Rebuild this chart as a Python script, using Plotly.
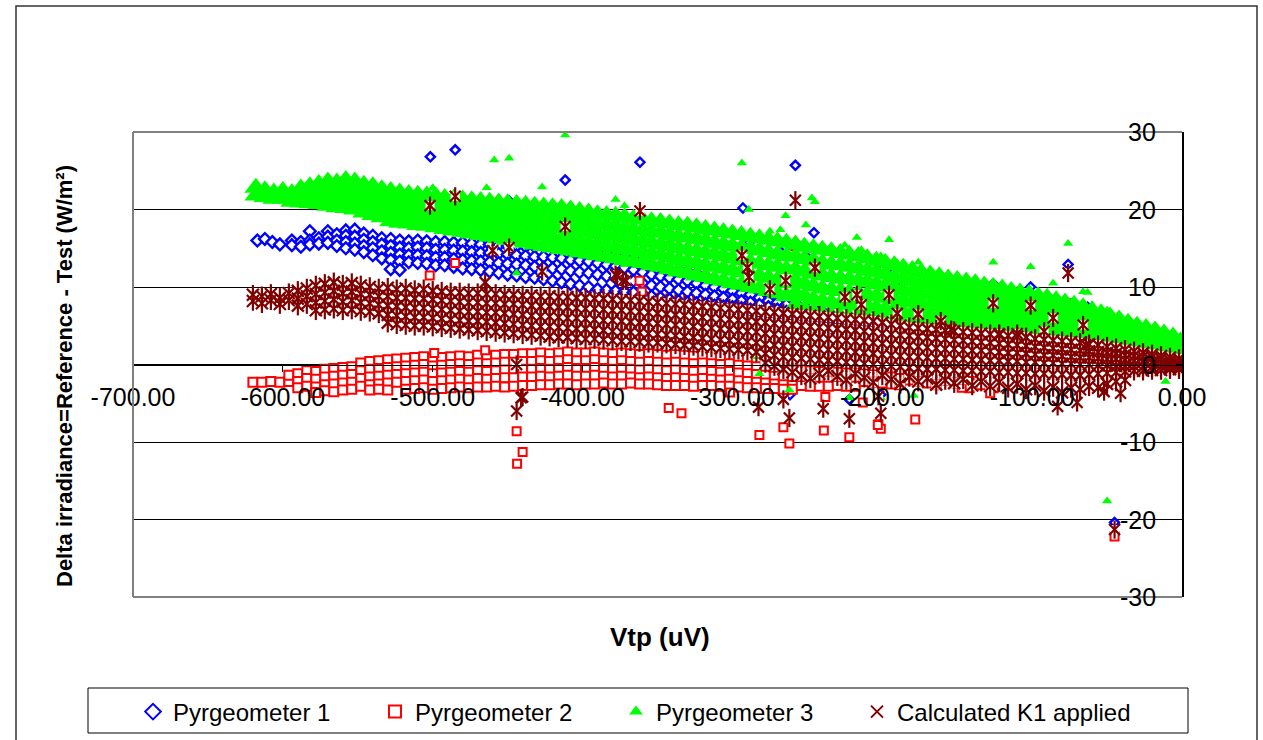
import plotly.graph_objects as go

# ---------------- data ----------------
X_TICKS = [-700, -600, -500, -400, -300, -200, -100, 0]
X_TICKTEXT = ["-700.00", "-600.00", "-500.00", "-400.00", "-300.00", "-200.00", "-100.00", "0.00"]
Y_TICKS = [-30, -20, -10, 0, 10, 20, 30]
Y_TICKTEXT = ["-30", "-20", "-10", "0", "10", "20", "30"]

# Pyrgeometer 1 (blue diamonds): dense band (x, [y...]) + scattered points
P1_BAND = [
    (-617, [16.0]), (-612, [16.2]), (-607, [15.8]), (-602, [15.5]),
    (-594, [16.0, 15.4]), (-588, [15.8, 15.2]), (-582, [17.2, 16.0, 15.5]), (-576, [16.3, 15.6]),
    (-570, [17.2, 16.5, 15.7]), (-564, [16.8, 16.0, 15.3]), (-558, [17.3, 16.6, 15.8, 15.0]),
    (-552, [17.4, 16.5, 15.6, 14.8]), (-546, [16.9, 16.1, 15.3, 14.5]), (-540, [16.6, 15.8, 15.0, 14.1]),
    (-534, [16.3, 15.5, 14.6, 13.7]), (-528, [16.2, 15.3, 14.4, 13.5, 12.3]), (-522, [16.0, 15.1, 14.2, 13.3, 12.2]),
    (-516, [15.9, 15.0, 14.1, 13.2]), (-510, [16.0, 15.1, 14.1, 13.1]), (-504, [15.9, 15.0, 14.0, 13.0]),
    (-498, [15.8, 14.8, 13.8, 12.8]), (-492, [15.8, 14.8, 13.8, 12.8]), (-486, [15.7, 14.7, 13.6, 12.6]),
    (-480, [15.7, 14.6, 13.5, 12.4]), (-474, [15.6, 14.5, 13.4, 12.3]), (-468, [15.5, 14.4, 13.3, 12.2]),
    (-462, [15.5, 14.4, 13.2, 12.0]), (-456, [15.4, 14.3, 13.1, 11.8]), (-450, [15.3, 14.2, 13.0, 11.6]),
    (-444, [15.3, 14.1, 12.9, 11.5]), (-438, [15.2, 14.0, 12.8, 11.3]), (-432, [15.2, 13.9, 12.6, 11.2]),
    (-426, [15.2, 13.9, 12.5, 11.0]), (-420, [15.1, 13.8, 12.4, 10.8]), (-414, [15.0, 13.7, 12.3, 10.6]),
    (-408, [14.9, 13.5, 12.1, 10.4]), (-402, [14.8, 13.4, 11.9, 10.2]), (-396, [14.7, 13.3, 11.8, 10.0]),
    (-390, [14.6, 13.1, 11.6, 9.7]), (-384, [14.4, 12.9, 11.4, 9.6]), (-378, [14.2, 12.7, 11.2, 9.5]),
    (-372, [14.0, 12.5, 11.0, 9.4]), (-366, [13.6, 12.2, 10.8, 9.3]), (-360, [13.2, 11.9, 10.5, 9.1]),
    (-354, [12.8, 11.6, 10.2, 8.8]), (-348, [12.6, 11.4, 10.0, 8.6]), (-342, [12.4, 11.2, 9.8, 8.4]),
    (-336, [12.2, 11.0, 9.6, 8.2]), (-330, [12.0, 10.8, 9.4, 8.0]), (-324, [11.7, 10.5, 9.2, 7.9]),
    (-318, [11.4, 10.2, 9.0, 7.8]), (-312, [11.1, 10.0, 8.8, 7.6]), (-306, [10.8, 9.8, 8.6, 7.5]),
    (-300, [10.5, 9.5, 8.4, 7.4]), (-294, [10.2, 9.2, 8.2, 7.3]), (-288, [9.9, 9.0, 8.0, 7.1]),
    (-282, [9.5, 8.6, 7.7, 6.8]), (-276, [9.0, 8.2, 7.4, 6.5]), (-270, [8.8, 8.0, 7.1, 6.3]),
    (-264, [8.6, 7.7, 6.8, 6.0]), (-258, [8.4, 7.5, 6.5, 5.7]), (-252, [8.2, 7.2, 6.2, 5.4]),
    (-246, [7.6, 6.7, 5.8]), (-240, [6.8, 6.0, 5.0]), (-234, [6.4, 5.6, 4.8]), (-228, [6.2, 5.3]),
    (-222, [6.0, 5.0]), (-216, [5.8, 4.8]), (-210, [5.5]), (-204, [5.2]),
]
P1_OUT_X = [-501.6, -485, -361.7, -411.6, -449, -258, -293, -289, -264.5, -251, -245.6, -195.5, -176,
            -126, -101, -76, -86, -66, -63, -49.5, -190, -3, -8, -45, -5, -230, -215, -200,
            -261.6, -201, -222]
P1_OUT_Y = [26.8, 27.7, 26.1, 23.8, 21.1, 25.7, 20.2, 15.7, 15.1, 14.0, 17.0, 12.5, 9.7,
            10.4, 10.0, 12.9, 8.2, 7.4, 7.4, 4.0, 10.0, 0.2, 0.3, -20.4, 1.4, 5.5, 4.9, 4.6,
            -3.9, -3.9, -4.5]

# Pyrgeometer 2 (red squares)
P2_BAND = [
    (-620, [-2.3]), (-614, [-2.3]), (-608, [-2.2]), (-602, [-2.3]), (-596, [-2.2, -1.4]),
    (-590, [-1.2, -2.2, -3.0]), (-584, [-0.8, -1.8, -2.8]), (-578, [-0.9, -1.9, -2.9, -3.6]),
    (-572, [-0.6, -1.6, -2.6, -3.4]), (-566, [-0.5, -1.5, -2.5, -3.5]), (-560, [-0.4, -1.4, -2.4, -3.3]),
    (-554, [-0.3, -1.3, -2.3, -3.2]), (-548, [0.2, -0.8, -1.8, -2.8]), (-542, [0.4, -0.6, -1.6, -2.6, -3.3]),
    (-536, [0.5, -0.5, -1.5, -2.5, -3.2]), (-530, [0.6, -0.4, -1.4, -2.4, -3.3]), (-524, [0.7, -0.3, -1.3, -2.3]),
    (-518, [0.8, -0.2, -1.2, -2.2, -3.2]), (-512, [0.9, -0.1, -1.1, -2.1, -3.1]), (-506, [1.0, 0.0, -1.0, -2.0, -3.0]),
    (-500, [0.8, -0.2, -1.2, -2.2, -3.2]), (-494, [0.9, -0.1, -1.1, -2.1, -3.1]), (-488, [1.0, 0.0, -1.0, -2.0, -3.0]),
    (-482, [1.1, 0.1, -0.9, -1.9, -2.9]), (-476, [1.0, 0.0, -1.0, -2.0, -3.0]), (-470, [1.2, 0.2, -0.8, -1.8, -2.9]),
    (-464, [1.1, 0.1, -0.9, -1.9, -2.9]), (-458, [1.2, 0.2, -0.8, -1.8, -2.8]), (-452, [1.3, 0.3, -0.7, -1.7, -2.9]),
    (-446, [1.3, 0.3, -0.7, -1.7, -2.8]), (-440, [1.4, 0.4, -0.6, -1.6, -2.7]), (-434, [1.4, 0.4, -0.6, -1.6, -2.7]),
    (-428, [1.5, 0.5, -0.5, -1.5, -2.6]), (-422, [1.4, 0.4, -0.6, -1.6, -2.6]), (-416, [1.5, 0.5, -0.5, -1.5, -2.5]),
    (-410, [1.6, 0.6, -0.4, -1.4, -2.5]), (-404, [1.5, 0.5, -0.5, -1.5, -2.6]), (-398, [1.5, 0.5, -0.5, -1.5, -2.5]),
    (-392, [1.6, 0.6, -0.4, -1.4, -2.5]), (-386, [1.5, 0.5, -0.5, -1.5, -2.4]), (-380, [1.4, 0.4, -0.6, -1.6, -2.5]),
    (-374, [1.5, 0.5, -0.5, -1.5, -2.5]), (-368, [1.4, 0.4, -0.6, -1.6, -2.4]), (-362, [1.3, 0.3, -0.7, -1.7, -2.5]),
    (-356, [1.4, 0.4, -0.6, -1.6, -2.5]), (-350, [1.3, 0.3, -0.7, -1.7, -2.6]), (-344, [1.2, 0.2, -0.8, -1.8, -2.7]),
    (-338, [1.3, 0.3, -0.7, -1.7, -2.7]), (-332, [1.2, 0.2, -0.8, -1.8, -2.7]), (-326, [1.1, 0.1, -0.9, -1.9, -2.8]),
    (-320, [1.2, 0.2, -0.8, -1.8, -2.7]), (-314, [1.1, 0.1, -0.9, -1.9, -2.7]), (-308, [1.0, 0.0, -1.0, -2.0, -2.8]),
    (-302, [1.1, 0.1, -0.9, -1.9, -2.8]), (-296, [0.9, -0.1, -1.1, -2.1, -2.9]), (-290, [0.8, -0.2, -1.2, -2.2, -3.0]),
    (-284, [0.7, -0.3, -1.3, -2.3, -3.0]), (-278, [0.6, -0.4, -1.4, -2.4, -3.1]), (-272, [0.5, -0.5, -1.5, -2.5, -3.1]),
    (-266, [0.4, -0.6, -1.6, -2.6, -3.2]), (-260, [0.3, -0.7, -1.7, -2.7, -3.2]), (-254, [0.3, -0.7, -1.7, -2.7]),
    (-248, [0.2, -0.8, -1.8, -2.8]), (-242, [0.1, -0.9, -1.9, -2.8]), (-236, [0.0, -1.0, -2.0, -2.8]),
    (-230, [0.0, -1.0, -2.0, -2.7]), (-224, [-0.1, -1.1, -2.1, -2.8]), (-218, [-0.2, -1.2, -2.2, -2.8]),
    (-212, [-0.2, -1.2, -2.2]), (-206, [-0.3, -1.3, -2.3]), (-200, [-0.4, -1.4, -2.4]), (-194, [-0.6, -1.6, -2.5]),
    (-188, [-0.8, -1.8, -2.6]), (-182, [-1.0, -2.0]), (-176, [-1.2, -2.2]), (-170, [-1.4, -2.4]),
    (-164, [-1.6, -2.6]), (-158, [-2.0]), (-150, [-2.4]), (-142, [-2.2, -3.0]), (-134, [-2.6]), (-126, [-3.0]),
]
P2_OUT_X = [-465, -499, -485, -502, -377, -362, -258, -248, -360.5, -76, -444, -440, -443.7, -342.5, -334,
            -282, -266, -262, -239, -238, -222, -202.6, -201, -213, -301.6, -178, -203, -147, -128, -45]
P2_OUT_Y = [1.85, 1.5, 13.1, 11.5, 3.2, 10.8, 15.3, 6.5, 9.4, 7.9, -8.6, -11.3, -12.8, -5.6, -6.3,
            -9.1, -8.1, -10.2, -8.5, -4.2, -9.4, -7.7, -8.3, -4.9, -3.6, -7.1, -7.8, -3.0, -3.7, -22.2]

# Pyrgeometer 3 (green triangles)
P3_BAND = [
    (-618, [22.8, 21.8]), (-612, [22.5, 21.6]), (-606, [22.2, 21.4]), (-600, [22.4, 21.4]), (-594, [22.1, 21.0]),
    (-588, [22.7, 21.8, 20.9]), (-582, [23.0, 21.9, 20.8]), (-576, [23.3, 22.4, 21.5, 20.7]),
    (-570, [23.6, 22.6, 21.5, 20.5]), (-564, [23.5, 22.4, 21.4, 20.3]), (-558, [23.8, 22.6, 21.4, 20.2]),
    (-552, [23.6, 22.4, 21.2, 20.0]), (-546, [23.2, 22.0, 20.8, 19.6]), (-540, [23.0, 21.8, 20.5, 19.3]),
    (-534, [22.6, 21.4, 20.2, 19.0]), (-528, [22.4, 21.4, 20.4, 19.4, 18.5]), (-522, [22.2, 21.2, 20.2, 19.2, 18.3]),
    (-516, [22.0, 21.0, 20.1, 19.1, 18.2]), (-510, [21.9, 20.9, 20.0, 19.0, 18.0]), (-504, [21.8, 20.8, 19.8, 18.9, 17.9]),
    (-498, [21.7, 20.7, 19.7, 18.7, 17.7]), (-492, [21.5, 20.5, 19.5, 18.5, 17.5]), (-486, [21.4, 20.4, 19.4, 18.3, 17.3]),
    (-480, [21.3, 20.3, 19.2, 18.2, 17.1]), (-474, [21.2, 20.1, 19.0, 18.0, 16.9]), (-468, [21.1, 20.0, 18.9, 17.8, 16.7]),
    (-462, [21.0, 19.9, 18.8, 17.6, 16.5]), (-456, [20.9, 19.8, 18.6, 17.5, 16.3]), (-450, [20.8, 19.6, 18.4, 17.3, 16.1]),
    (-444, [20.7, 19.5, 18.3, 17.1, 15.9]), (-438, [20.6, 19.4, 18.2, 16.9, 15.7]), (-432, [20.5, 19.3, 18.0, 16.8, 15.5]),
    (-426, [20.4, 19.1, 17.9, 16.6, 15.3]), (-420, [20.3, 19.0, 17.7, 16.4, 15.1]), (-414, [20.2, 18.9, 17.6, 16.2, 14.9]),
    (-408, [20.0, 18.7, 17.4, 16.0, 14.7]), (-402, [19.8, 18.5, 17.2, 15.8, 14.5]), (-396, [19.6, 18.3, 17.0, 15.6, 14.3]),
    (-390, [19.4, 18.1, 16.8, 15.4, 14.1]), (-384, [19.3, 18.0, 16.6, 15.3, 13.9]), (-378, [19.2, 17.8, 16.5, 15.1, 13.7]),
    (-372, [19.0, 17.6, 16.3, 14.9, 13.5]), (-366, [18.8, 17.4, 16.1, 14.7, 13.3]), (-360, [18.7, 17.3, 15.9, 14.5, 13.1]),
    (-354, [18.5, 17.1, 15.7, 14.2, 12.8]), (-348, [18.4, 17.0, 15.5, 14.1, 12.6]), (-342, [18.2, 16.7, 15.3, 13.8, 12.3]),
    (-336, [18.0, 16.5, 15.0, 13.5, 12.0]), (-330, [17.9, 16.4, 14.8, 13.3, 11.8]), (-324, [17.7, 16.2, 14.6, 13.1, 11.5]),
    (-318, [17.5, 16.0, 14.4, 12.8, 11.3]), (-312, [17.3, 15.7, 14.2, 12.6, 11.0]), (-306, [17.1, 15.5, 14.0, 12.4, 10.8]),
    (-300, [16.9, 15.3, 13.7, 12.1, 10.5]), (-294, [16.7, 15.1, 13.5, 11.9, 10.3]), (-288, [16.5, 14.9, 13.2, 11.6, 10.0]),
    (-282, [16.3, 14.7, 13.0, 11.4, 9.8]), (-276, [16.1, 14.5, 12.8, 11.2, 9.5]), (-270, [15.9, 14.2, 12.6, 10.9, 9.2]),
    (-264, [15.7, 14.0, 12.3, 10.5, 8.8]), (-258, [15.5, 13.9, 12.3, 10.8, 9.2, 7.6]),
    (-252, [15.2, 13.6, 12.0, 10.4, 8.8, 7.2]), (-246, [15.0, 13.4, 11.7, 10.1, 8.4, 6.8]),
    (-240, [14.8, 13.1, 11.5, 9.8, 8.2, 6.5]), (-234, [14.6, 12.9, 11.3, 9.6, 8.0, 6.3]),
    (-228, [14.4, 12.8, 11.1, 9.5, 7.8, 6.2]), (-222, [14.2, 12.6, 11.0, 9.3, 7.7, 6.1]),
    (-216, [14.0, 12.4, 10.8, 9.2, 7.6, 6.0]), (-210, [13.7, 12.1, 10.6, 9.0, 7.5, 5.9]),
    (-204, [13.4, 11.9, 10.4, 8.8, 7.3, 5.8]), (-198, [13.1, 11.6, 10.1, 8.6, 7.1, 5.6]),
    (-192, [12.8, 11.3, 9.9, 8.4, 7.0, 5.5]), (-186, [12.5, 11.1, 9.6, 8.2, 6.7, 5.3]),
    (-180, [12.2, 10.8, 9.4, 8.0, 6.6, 5.2]), (-174, [11.9, 10.5, 9.1, 7.8, 6.4, 5.0]),
    (-168, [11.6, 10.3, 9.0, 7.6, 6.3, 5.0]), (-162, [11.4, 10.1, 8.8, 7.5, 6.2, 4.9]),
    (-156, [11.1, 9.8, 8.6, 7.3, 6.1, 4.8]), (-150, [10.9, 9.7, 8.4, 7.2, 5.9, 4.7]),
    (-144, [10.7, 9.5, 8.3, 7.0, 5.8, 4.6]), (-138, [10.5, 9.3, 8.1, 6.9, 5.7, 4.5]),
    (-132, [10.2, 9.0, 7.9, 6.7, 5.6, 4.4]), (-126, [10.0, 8.9, 7.7, 6.6, 5.4, 4.3]),
    (-120, [9.8, 8.7, 7.6, 6.4, 5.3, 4.2]), (-114, [9.5, 8.4, 7.3, 6.2, 5.1, 4.0]),
    (-108, [9.3, 8.2, 7.1, 6.1, 5.0, 3.9]), (-102, [9.1, 8.0, 7.0, 5.9, 4.9, 3.8]),
    (-96, [8.8, 7.8, 6.7, 5.7, 4.6, 3.6]), (-90, [8.6, 7.3, 6.1, 4.8, 3.5]), (-84, [8.3, 7.1, 5.8, 4.6, 3.3]),
    (-78, [8.0, 6.8, 5.6, 4.3, 3.1]), (-72, [7.7, 6.5, 5.4, 4.2, 3.0]), (-66, [7.4, 6.3, 5.1, 4.0, 2.8]),
    (-60, [7.0, 5.9, 4.8, 3.7, 2.6]), (-54, [6.6, 5.6, 4.6, 3.5, 2.5]), (-48, [6.2, 5.3, 4.3, 3.4, 2.4]),
    (-42, [5.8, 4.9, 4.0, 3.2, 2.3]), (-36, [5.4, 4.6, 3.8, 3.0, 2.2]), (-30, [5.0, 4.0, 3.1, 2.1]),
    (-24, [4.7, 3.8, 2.9, 2.0]), (-18, [4.4, 3.6, 2.7, 1.9]), (-12, [4.0, 3.2, 2.5, 1.7]),
    (-6, [3.6, 2.9, 2.2, 1.5]), (-1, [3.0, 2.1, 1.3]),
]
P3_OUT_X = [-411.6, -459, -449, -464, -427, -500, -378, -372, -540, -528, -444, -372, -293.7, -289, -264.5,
            -245, -247, -251, -281, -275, -268, -225, -217, -214, -195.5, -201, -190, -176, -161, -154,
            -126, -101, -76, -86, -66, -63, -54.6, -50, -282, -262, -222, -201, -179, -50, -283.6, -11]
P3_OUT_Y = [29.6, 26.4, 26.6, 22.8, 22.9, 22.8, 21.3, 20.5, 19.0, 18.5, 11.8, 12.9, 26.0, 20.0, 19.2,
            21.0, 21.5, 18.0, 16.5, 17.2, 17.4, 15.4, 16.4, 14.8, 16.1, 14.0, 13.1, 13.2, 11.3, 10.3,
            13.2, 12.6, 15.6, 10.5, 9.4, 9.3, 6.9, 7.0, -1.2, -3.3, -4.3, -4.3, -4.0, -17.6, 1.0, -2.2]

# Calculated K1 applied (dark red stars)
K1_BAND = [
    (-620, [9.0, 8.2]), (-614, [8.8, 7.9]), (-608, [9.1, 8.3]), (-602, [8.6, 7.8]), (-596, [9.2, 8.3]),
    (-590, [9.5, 8.5, 7.6]), (-584, [9.8, 8.8, 7.8]), (-578, [10.2, 9.1, 8.0, 7.0]), (-572, [10.4, 9.3, 8.2, 7.1]),
    (-566, [10.6, 9.5, 8.4, 7.2]), (-560, [10.3, 9.2, 8.1, 7.0]), (-554, [10.5, 9.4, 8.3, 7.1]),
    (-548, [10.2, 9.1, 8.0, 6.9]), (-542, [10.0, 9.0, 7.9, 6.8]), (-536, [9.8, 8.8, 7.7, 6.6]),
    (-530, [9.9, 8.8, 7.6, 6.4, 5.4]), (-524, [9.7, 8.6, 7.5, 6.3, 5.2]), (-518, [9.8, 8.6, 7.4, 6.2, 5.1]),
    (-512, [9.6, 8.5, 7.3, 6.1, 5.0]), (-506, [9.7, 8.5, 7.3, 6.1, 5.0]), (-500, [9.5, 8.4, 7.2, 6.0, 4.9]),
    (-494, [9.4, 8.3, 7.1, 5.9, 4.8]), (-488, [9.3, 8.2, 7.0, 5.8, 4.7]), (-482, [9.3, 8.1, 6.9, 5.7, 4.6]),
    (-476, [9.2, 8.0, 6.8, 5.6, 4.5]), (-470, [9.2, 8.0, 6.8, 5.6, 4.4]), (-464, [9.1, 7.9, 6.7, 5.5, 4.3]),
    (-458, [9.1, 7.9, 6.7, 5.4, 4.2]), (-452, [9.0, 7.8, 6.6, 5.3, 4.1]), (-446, [9.0, 7.8, 6.5, 5.2, 4.0]),
    (-440, [8.9, 7.7, 6.4, 5.1, 3.9]), (-434, [8.9, 7.6, 6.3, 5.0, 3.8]), (-428, [8.8, 7.5, 6.2, 4.9, 3.7]),
    (-422, [8.8, 7.5, 6.2, 4.9, 3.6]), (-416, [8.7, 7.4, 6.1, 4.8, 3.5]), (-410, [8.7, 7.4, 6.0, 4.7, 3.5]),
    (-404, [8.6, 7.3, 6.0, 4.6, 3.4]), (-398, [8.6, 7.2, 5.9, 4.6, 3.3]), (-392, [8.5, 7.2, 5.8, 4.5, 3.3]),
    (-386, [8.5, 7.1, 5.7, 4.4, 3.2]), (-380, [8.4, 7.0, 5.7, 4.3, 3.1]), (-374, [8.3, 7.0, 5.6, 4.2, 3.0]),
    (-368, [8.3, 6.9, 5.5, 4.2, 3.0]), (-362, [8.2, 6.8, 5.4, 4.1, 2.9]), (-356, [8.1, 6.7, 5.4, 4.0, 2.8]),
    (-350, [8.0, 6.6, 5.3, 3.9, 2.8]), (-344, [7.9, 6.5, 5.2, 3.8, 2.7]), (-338, [7.8, 6.4, 5.1, 3.7, 2.6]),
    (-332, [7.7, 6.3, 5.0, 3.6, 2.5]), (-326, [7.6, 6.2, 4.9, 3.5, 2.4]), (-320, [7.5, 6.1, 4.8, 3.4, 2.3]),
    (-314, [7.4, 6.0, 4.7, 3.3, 2.2]), (-308, [7.3, 5.9, 4.6, 3.2, 2.1]), (-302, [7.2, 5.8, 4.5, 3.1, 2.0]),
    (-296, [7.1, 5.7, 4.4, 3.0, 1.9]), (-290, [7.0, 5.6, 4.3, 2.9, 1.8]), (-284, [6.9, 5.5, 4.2, 2.8, 1.6]),
    (-278, [6.8, 5.4, 4.0, 2.6, 1.4, 0.2]), (-272, [6.7, 5.3, 3.9, 2.5, 1.2, -0.2]),
    (-266, [6.6, 5.2, 3.8, 2.4, 1.0, -0.6]), (-260, [6.5, 5.1, 3.7, 2.3, 0.9, -1.0]),
    (-254, [6.4, 5.0, 3.6, 2.2, 0.8, -1.4]), (-248, [6.3, 4.9, 3.5, 2.1, 0.7, -1.8]),
    (-242, [6.2, 4.8, 3.4, 2.0, 0.6, -1.2]), (-236, [6.1, 4.7, 3.3, 1.9, 0.5, -0.8]),
    (-230, [6.0, 4.6, 3.2, 1.8, 0.4, -1.5]), (-224, [5.9, 4.5, 3.1, 1.7, 0.3, -2.0]),
    (-218, [5.8, 4.4, 3.0, 1.6, 0.2, -1.2]), (-212, [5.7, 4.3, 2.9, 1.5, 0.1, -1.7]),
    (-206, [5.6, 4.2, 2.8, 1.4, 0.0, -2.3]), (-200, [5.4, 4.0, 2.7, 1.3, -0.1, -1.4]),
    (-194, [5.2, 3.9, 2.6, 1.2, -0.2, -1.9]), (-188, [5.0, 3.8, 2.5, 1.1, -0.3, -2.5]),
    (-182, [4.8, 3.7, 2.4, 1.0, -0.4, -1.6]), (-176, [4.7, 3.6, 2.3, 1.0, -0.5, -2.2]),
    (-170, [4.6, 3.5, 2.2, 0.9, -0.6, -1.8]), (-164, [4.5, 3.4, 2.1, 0.8, -0.6, -2.6]),
    (-158, [4.4, 3.3, 2.0, 0.8, -0.7, -2.0]), (-152, [4.3, 3.2, 2.0, 0.7, -0.7, -2.4]),
    (-146, [4.2, 3.1, 1.9, 0.7, -0.8, -1.9]), (-140, [4.1, 3.0, 1.8, 0.6, -0.8, -2.7]),
    (-134, [4.0, 2.9, 1.8, 0.6, -0.9, -2.2]), (-128, [3.9, 2.8, 1.7, 0.5, -0.9, -2.8]),
    (-122, [3.8, 2.7, 1.6, 0.5, -1.0, -2.3]), (-116, [3.7, 2.6, 1.5, 0.4, -1.0, -3.0]),
    (-110, [3.6, 2.5, 1.5, 0.4, -1.1, -2.5]), (-104, [3.5, 2.4, 1.4, 0.3, -1.1, -3.2]),
    (-98, [3.3, 2.3, 1.3, 0.3, -1.2, -2.7]), (-92, [3.2, 2.2, 1.2, 0.2, -1.2, -3.4]),
    (-86, [3.1, 2.1, 1.2, 0.2, -1.3, -2.9]), (-80, [3.0, 2.0, 1.1, 0.1, -1.3, -3.6]),
    (-74, [2.9, 1.9, 1.0, 0.1, -1.4, -3.0]), (-68, [2.8, 1.8, 0.9, 0.0, -1.4, -3.2]),
    (-62, [2.6, 1.7, 0.9, 0.0, -1.3, -2.8]), (-56, [2.5, 1.6, 0.8, -0.1, -1.2, -3.0]),
    (-50, [2.3, 1.5, 0.7, -0.1, -1.1, -2.5]), (-44, [2.1, 1.4, 0.7, -0.2, -1.0, -2.2]),
    (-38, [1.9, 1.2, 0.6, -0.2, -0.9, -2.0]), (-32, [1.7, 1.1, 0.5, -0.2, -0.8]),
    (-26, [1.5, 1.0, 0.4, -0.3, -0.8]), (-20, [1.3, 0.9, 0.3, -0.3, -0.7]),
    (-14, [1.1, 0.7, 0.2, -0.3, -0.7]), (-8, [0.9, 0.5, 0.1, -0.3, -0.6]), (-2, [0.7, 0.3, 0.0, -0.3, -0.6]),
]
K1_OUT_X = [-501.8, -485, -411.6, -361.7, -460, -449, -427, -378, -373, -444, -441, -440, -444, -282.6,
            -266, -262, -239.4, -222, -201, -202.5, -258, -293.7, -289, -264.5, -245, -76, -126, -101,
            -66, -176, -161, -195.5, -86, -83, -70, -41, -52, -45, -465, -377, -371, -290, -275,
            -225, -217, -214, -190, -154, -122, -110, -92, -64]
K1_OUT_Y = [20.5, 21.7, 17.8, 19.8, 14.7, 15.1, 12.0, 11.6, 10.8, 0.0, -4.3, -4.2, -6.0, -5.5,
            -4.5, -6.9, -5.7, -7.0, -6.3, -4.1, 21.2, 14.1, 11.3, 10.8, 12.5, 11.8, 7.9, 7.6,
            5.1, 6.5, 5.6, 9.0, 6.0, -5.4, -4.9, -3.7, -3.5, -21.3, 10.6, 11.4, 10.8, 12.5, 9.7,
            8.7, 9.0, 7.7, 6.6, 4.5, 4.0, 4.0, 4.3, 2.5]

SERIES_NAMES = ["Pyrgeometer 1", "Pyrgeometer 2", "Pyrgeometer 3", "Calculated K1 applied"]


def flatten(band, out_x, out_y, band_size, out_size):
    xs, ys, ss = [], [], []
    for x, yl in band:
        for y in yl:
            xs.append(x)
            ys.append(y)
            ss.append(band_size)
    ss += [out_size] * len(out_x)
    return xs + list(out_x), ys + list(out_y), ss


p1x, p1y, p1s = flatten(P1_BAND, P1_OUT_X, P1_OUT_Y, 9, 7)
p2x, p2y, p2s = flatten(P2_BAND, P2_OUT_X, P2_OUT_Y, 9, 8)
p3x, p3y, p3s = flatten(P3_BAND, P3_OUT_X, P3_OUT_Y, 20, 9)
k1x, k1y, k1s = flatten(K1_BAND, K1_OUT_X, K1_OUT_Y, 12, 11)

FONT = "Liberation Sans, Arial, sans-serif"
BLUE = "#0000FF"
RED = "#FF0000"
GREEN = "#00FF00"
BROWN = "#800000"

fig = go.Figure()
fig.add_trace(go.Scatter(x=p1x, y=p1y, mode="markers", name=SERIES_NAMES[0], legend="legend",
                         marker=dict(symbol="diamond", size=p1s, color="white", opacity=1,
                                     line=dict(color=BLUE, width=2.4))))
fig.add_trace(go.Scatter(x=p2x, y=p2y, mode="markers", name=SERIES_NAMES[1], legend="legend2",
                         marker=dict(symbol="square", size=p2s, color="white", opacity=1,
                                     line=dict(color=RED, width=2.0))))
fig.add_trace(go.Scatter(x=p3x, y=p3y, mode="markers", name=SERIES_NAMES[2], legend="legend3",
                         marker=dict(symbol="triangle-up", size=p3s, color=GREEN, opacity=1,
                                     line=dict(width=0))))
fig.add_trace(go.Scatter(x=k1x, y=k1y, mode="markers", showlegend=False, hoverinfo="skip",
                         marker=dict(symbol="square", size=[s - 2 for s in k1s], color="white", opacity=1,
                                     line=dict(width=0))))
fig.add_trace(go.Scatter(x=k1x, y=k1y, mode="markers", name=SERIES_NAMES[3], legend="legend4",
                         marker=dict(symbol="x-thin-open", size=k1s, color=BROWN, opacity=1,
                                     line=dict(color=BROWN, width=2.2))))
fig.add_trace(go.Scatter(x=k1x, y=k1y, mode="markers", showlegend=False, hoverinfo="skip",
                         marker=dict(symbol="line-ns-open", size=[s + 2 for s in k1s], color=BROWN, opacity=1,
                                     line=dict(color=BROWN, width=2.2))))

W, H = 1263, 740
L, R, T, B = 133, 81, 132, 143
pw, ph = W - L - R, H - T - B


def px(xp):
    return (xp - L) / pw


def py(yp):
    return (H - B - yp) / ph


def legend_at(text_left_px):
    return dict(orientation="h", x=px(text_left_px - 40), xanchor="left", y=py(712), yanchor="middle",
                bgcolor="rgba(0,0,0,0)", font=dict(size=24, family=FONT), itemsizing="constant")


fig.update_layout(
    width=W, height=H,
    margin=dict(l=L, r=R, t=T, b=B, autoexpand=False),
    paper_bgcolor="white", plot_bgcolor="white",
    font=dict(family=FONT, color="black"),
    xaxis=dict(range=[-700, 0], tickvals=X_TICKS, ticktext=X_TICKTEXT,
               anchor="free", position=0.5, showgrid=False, zeroline=False,
               showline=True, linecolor="black", linewidth=1,
               ticks="outside", ticklen=6, tickcolor="black", ticklabelstandoff=4,
               tickfont=dict(size=25, family=FONT)),
    yaxis=dict(range=[-30, 30], tickvals=Y_TICKS, side="right", showticklabels=False,
               showgrid=True, gridcolor="black", gridwidth=1,
               zeroline=False, showline=True, linecolor="black", linewidth=1.5,
               ticks="inside", ticklen=6, tickcolor="black"),
    legend=legend_at(173),
    legend2=legend_at(415),
    legend3=legend_at(656),
    legend4=legend_at(897),
    showlegend=True,
)

# y tick labels drawn just left of the right-hand axis line
for v, t in zip(Y_TICKS, Y_TICKTEXT):
    fig.add_annotation(text=t, xref="paper", yref="y", x=px(1158), y=v, xanchor="right",
                       yanchor="middle", showarrow=False, font=dict(size=25, family=FONT))

shapes = [
    dict(type="line", xref="paper", yref="paper", x0=0, x1=1, y0=1, y1=1, line=dict(color="#808080", width=2), layer="above"),
    dict(type="line", xref="paper", yref="paper", x0=0, x1=1, y0=0, y1=0, line=dict(color="#808080", width=2), layer="above"),
    dict(type="line", xref="paper", yref="paper", x0=0, x1=0, y0=0, y1=1, line=dict(color="#808080", width=2), layer="above"),
    dict(type="rect", xref="paper", yref="paper", x0=px(88), x1=px(1188), y0=py(733), y1=py(688),
         line=dict(color="black", width=1)),
    dict(type="rect", xref="paper", yref="paper", x0=px(16), x1=px(1257), y0=py(760), y1=py(6),
         line=dict(color="#333333", width=1.5)),
]
fig.update_layout(shapes=shapes)

fig.add_annotation(text="<b>Vtp (uV)</b>", xref="paper", yref="paper", x=px(660), y=py(637),
                   showarrow=False, font=dict(size=26, family=FONT), xanchor="center", yanchor="middle")
fig.add_annotation(text="<b>Delta irradiance=Reference - Test (W/m²)</b>", xref="paper", yref="paper",
                   x=px(64), y=py(376), textangle=-90, showarrow=False,
                   font=dict(size=22, family=FONT), xanchor="center", yanchor="middle")

fig.write_html("out.html")
